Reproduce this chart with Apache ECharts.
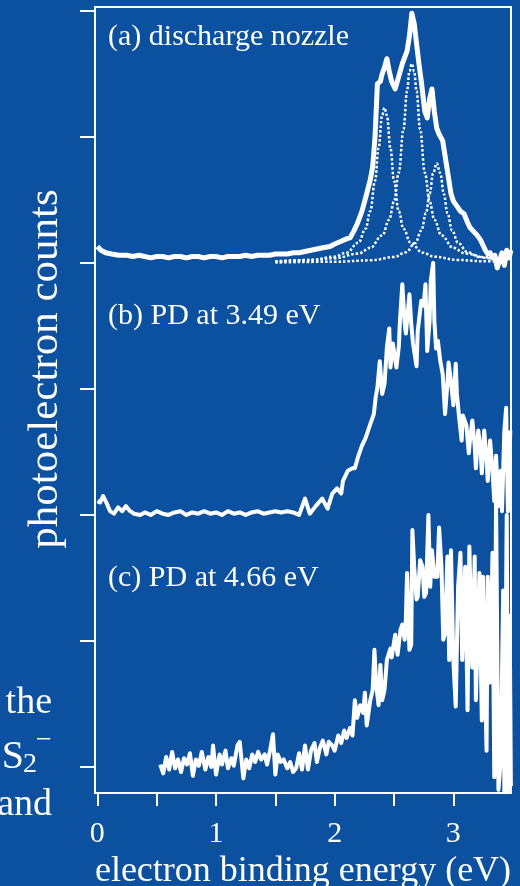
<!DOCTYPE html>
<html>
<head>
<meta charset="utf-8">
<script src="https://cdn.jsdelivr.net/npm/echarts@6/dist/echarts.min.js"></script>
<style>
html,body{margin:0;padding:0;background:#0c50a0;}
#chart{width:520px;height:886px;}
</style>
</head>
<body>
<div id="chart"></div>
<script>
// x tick values (eV) and labels
const xTickValues = [0, 0.5, 1, 1.5, 2, 2.5, 3];
const xLabelValues = [0, 1, 2, 3];
const yTickValues = [0, 1, 2, 3, 4, 5, 6];

const panelLabels = ['(a) discharge nozzle', '(b) PD at 3.49 eV', '(c) PD at 4.66 eV'];

// (a) discharge nozzle spectrum [eV, counts offset]
const spectrumA = [[0.00,4.13],[0.03,4.10],[0.07,4.08],[0.12,4.07],[0.18,4.06],[0.25,4.06],
[0.30,4.05],[0.35,4.06],[0.40,4.05],[0.45,4.04],[0.50,4.05],[0.55,4.05],[0.60,4.04],[0.65,4.05],[0.70,4.05],[0.75,4.04],
[0.80,4.05],[0.85,4.05],[0.90,4.04],[0.95,4.05],[1.00,4.05],[1.05,4.04],[1.10,4.05],[1.15,4.05],[1.20,4.05],[1.25,4.06],
[1.30,4.05],[1.35,4.06],[1.40,4.06],[1.45,4.06],[1.50,4.07],[1.55,4.07],[1.60,4.07],[1.65,4.08],[1.70,4.08],[1.75,4.09],
[1.80,4.10],[1.85,4.11],[1.90,4.12],[1.96,4.13],[2.00,4.15],[2.05,4.17],[2.10,4.19],[2.13,4.20],[2.16,4.25],[2.19,4.31],
[2.23,4.41],[2.27,4.55],[2.30,4.66],[2.32,4.76],[2.34,5.00],[2.36,5.42],[2.385,5.44],[2.40,5.50],[2.42,5.55],[2.44,5.62],
[2.46,5.52],[2.48,5.44],[2.51,5.38],[2.54,5.48],[2.57,5.58],[2.61,5.68],[2.63,5.80],[2.65,5.98],[2.67,5.90],[2.69,5.74],
[2.71,5.58],[2.73,5.44],[2.76,5.20],[2.78,5.15],[2.80,5.30],[2.82,5.38],[2.84,5.20],[2.86,5.07],[2.88,5.02],[2.91,4.97],
[2.93,4.85],[2.96,4.67],[2.98,4.55],[3.00,4.49],[3.03,4.45],[3.06,4.41],[3.09,4.39],[3.12,4.32],[3.14,4.28],[3.17,4.25],
[3.20,4.22],[3.23,4.18],[3.25,4.14],[3.27,4.10],[3.29,4.07],[3.31,4.08],[3.33,4.04],[3.35,4.06],[3.37,3.96],[3.39,4.02],
[3.41,4.08],[3.43,3.98],[3.45,4.10],[3.47,4.04],[3.485,4.10]];

// fitted components in (a)
const fitA1 = [[1.50,4.010],[1.80,4.023],[2.00,4.049],[2.10,4.081],[2.20,4.160],[2.26,4.270],[2.30,4.410],[2.34,4.650],
[2.37,4.910],[2.40,5.170],[2.42,5.230],[2.44,5.170],[2.47,4.910],[2.50,4.650],[2.54,4.410],[2.58,4.270],[2.64,4.160],
[2.74,4.081],[2.84,4.049],[3.04,4.023],[3.24,4.013],[3.45,4.008]];
const fitA2 = [[1.50,4.012],[1.80,4.022],[2.00,4.037],[2.20,4.074],[2.30,4.119],[2.40,4.218],[2.46,4.343],[2.50,4.486],
[2.54,4.715],[2.58,5.060],[2.61,5.362],[2.63,5.519],[2.65,5.580],[2.67,5.519],[2.69,5.362],[2.72,5.060],[2.76,4.715],
[2.80,4.486],[2.84,4.343],[2.90,4.218],[3.00,4.119],[3.10,4.074],[3.30,4.037],[3.45,4.024]];
const fitA3 = [[1.50,4.003],[2.00,4.009],[2.30,4.020],[2.50,4.046],[2.60,4.084],[2.68,4.158],[2.73,4.256],[2.77,4.395],
[2.80,4.547],[2.83,4.711],[2.86,4.790],[2.89,4.711],[2.92,4.547],[2.95,4.395],[2.99,4.256],[3.04,4.158],[3.12,4.084],
[3.22,4.046],[3.45,4.018]];

// (b) photodetachment at 3.49 eV
const spectrumB = [[0.00,2.11],[0.023,2.10],[0.048,2.15],[0.08,2.09],[0.107,2.03],[0.14,2.01],[0.175,2.06],[0.21,2.03],
[0.24,2.07],[0.276,2.03],[0.31,2.01],[0.36,2.00],[0.40,2.02],[0.45,2.00],[0.50,2.03],[0.55,2.01],[0.60,2.00],[0.65,2.02],
[0.70,2.03],[0.75,2.00],[0.80,2.02],[0.85,2.01],[0.90,2.03],[0.95,2.01],[1.00,2.02],[1.05,2.00],[1.10,2.03],[1.15,2.01],
[1.20,2.02],[1.25,2.00],[1.30,2.02],[1.35,2.03],[1.40,2.01],[1.45,2.02],[1.50,2.03],[1.55,2.02],[1.60,2.03],[1.65,2.02],
[1.70,2.00],[1.75,2.13],[1.79,2.01],[1.84,2.07],[1.895,2.13],[1.94,2.05],[1.98,2.17],[2.02,2.21],[2.055,2.17],[2.07,2.27],
[2.11,2.35],[2.15,2.37],[2.17,2.37],[2.20,2.47],[2.23,2.55],[2.26,2.61],[2.30,2.72],[2.33,2.80],[2.345,2.93],[2.36,3.01],
[2.38,3.22],[2.40,2.96],[2.42,3.04],[2.44,3.33],[2.46,3.48],[2.47,3.17],[2.49,3.36],[2.52,3.17],[2.54,3.33],[2.55,3.54],
[2.57,3.83],[2.59,3.52],[2.60,3.44],[2.63,3.75],[2.645,3.52],[2.66,3.36],[2.69,3.18],[2.70,3.46],[2.73,3.70],[2.75,3.66],
[2.765,3.83],[2.78,3.30],[2.80,3.54],[2.81,3.86],[2.83,4.00],[2.84,3.54],[2.855,3.32],[2.87,3.38],[2.89,3.22],[2.91,3.12],
[2.93,2.80],[2.95,3.04],[2.96,3.21],[2.98,3.06],[3.00,2.87],[3.02,3.20],[3.03,2.96],[3.05,2.76],[3.07,2.59],[3.08,2.79],
[3.11,2.71],[3.13,2.49],[3.14,2.59],[3.16,2.75],[3.18,2.55],[3.19,2.37],[3.21,2.67],[3.23,2.51],[3.24,2.33],[3.26,2.67],
[3.28,2.44],[3.29,2.27],[3.31,2.59],[3.33,2.35],[3.345,2.11],[3.36,2.47],[3.38,2.07],[3.40,2.35],[3.41,2.03],[3.43,2.67],
[3.445,2.85],[3.46,2.03],[3.48,2.67]];

// (c) photodetachment at 4.66 eV
const spectrumC = [[0.53,0.02],[0.555,-0.05],[0.58,0.08],[0.605,-0.02],[0.63,0.12],[0.655,-0.01],[0.68,0.06],[0.705,-0.04],
[0.73,0.07],[0.755,0.02],[0.78,0.11],[0.805,-0.07],[0.83,0.06],[0.855,0.01],[0.88,0.12],[0.91,-0.02],[0.935,0.08],[0.96,0.00],
[0.975,0.17],[1.00,-0.06],[1.03,0.10],[1.05,0.02],[1.08,0.13],[1.10,-0.01],[1.13,0.07],[1.15,0.01],[1.18,0.17],[1.20,0.20],
[1.23,-0.09],[1.255,0.06],[1.28,-0.01],[1.305,0.10],[1.33,0.04],[1.355,0.12],[1.38,0.06],[1.41,0.10],[1.43,0.02],[1.455,0.13],
[1.48,0.26],[1.50,-0.06],[1.52,0.10],[1.545,0.04],[1.57,0.06],[1.60,-0.01],[1.625,0.04],[1.65,-0.04],[1.675,-0.01],[1.70,0.11],
[1.725,-0.02],[1.75,0.17],[1.775,-0.02],[1.80,0.13],[1.83,0.19],[1.85,0.04],[1.875,0.15],[1.90,0.21],[1.93,0.10],[1.95,0.20],
[1.98,0.17],[2.00,0.13],[2.03,0.25],[2.055,0.19],[2.08,0.29],[2.10,0.23],[2.13,0.31],[2.15,0.25],[2.17,0.53],[2.19,0.39],
[2.215,0.49],[2.24,0.43],[2.255,0.59],[2.27,0.33],[2.30,0.53],[2.32,0.61],[2.335,0.93],[2.35,0.65],[2.37,0.49],[2.385,0.81],
[2.40,0.53],[2.42,0.61],[2.44,0.85],[2.47,0.94],[2.48,0.87],[2.51,1.05],[2.53,0.89],[2.555,1.09],[2.57,1.13],[2.59,1.01],
[2.60,1.18],[2.61,1.54],[2.63,0.93],[2.645,0.97],[2.655,1.88],[2.67,1.59],[2.69,1.33],[2.70,1.35],[2.72,1.64],[2.74,1.59],
[2.755,1.35],[2.77,1.38],[2.79,2.00],[2.805,1.43],[2.82,1.72],[2.84,1.51],[2.865,1.51],[2.88,1.90],[2.90,1.59],[2.915,1.01],
[2.93,1.06],[2.95,1.67],[2.965,0.85],[2.98,1.72],[3.00,0.85],[3.02,0.48],[3.04,1.43],[3.06,1.70],[3.075,0.85],[3.10,1.59],
[3.12,0.45],[3.135,1.75],[3.16,0.79],[3.18,1.67],[3.19,0.53],[3.22,1.54],[3.24,0.37],[3.25,1.51],[3.28,0.13],[3.29,1.51],
[3.31,0.67],[3.33,1.70],[3.345,-0.08],[3.36,2.10],[3.38,-0.18],[3.40,0.06],[3.42,1.40],[3.43,-0.20],[3.45,2.00],[3.46,-0.20],
[3.475,1.20],[3.485,-0.15]];

const WHITE = '#ffffff';
const SERIF = 'Liberation Serif';

const chart = echarts.init(document.getElementById('chart'), null, {renderer: 'canvas'});

const dotted = {color: WHITE, width: 2.5, type: [2.5, 2], cap: 'butt'};

chart.setOption({
  backgroundColor: '#0c50a0',
  animation: false,
  grid: {left: 95, top: 7, width: 416, height: 786, show: true, borderColor: WHITE, borderWidth: 2,
         containLabel: false, outerBoundsMode: 'none'},
  xAxis: {
    type: 'value', min: -0.02, max: 3.486,
    name: 'electron binding energy (eV)', nameLocation: 'middle', nameGap: 60,
    nameTextStyle: {color: WHITE, fontFamily: SERIF, fontSize: 36},
    axisLine: {show: true, onZero: false, lineStyle: {color: WHITE, width: 2}},
    axisTick: {show: true, inside: false, length: 13, customValues: xTickValues, lineStyle: {color: WHITE, width: 2}},
    axisLabel: {show: true, customValues: xLabelValues, color: WHITE, fontFamily: SERIF, fontSize: 30, margin: 26},
    splitLine: {show: false}
  },
  yAxis: {
    type: 'value', min: -0.206, max: 6.03,
    name: 'photoelectron counts', nameLocation: 'middle', nameGap: 28, nameRotate: 90,
    nameTextStyle: {color: WHITE, fontFamily: SERIF, fontSize: 43, padding: [0, 0, 0, 62]},
    axisLine: {show: true, onZero: false, lineStyle: {color: WHITE, width: 2}},
    axisTick: {show: true, inside: false, length: 15, customValues: yTickValues, lineStyle: {color: WHITE, width: 2}},
    axisLabel: {show: false},
    splitLine: {show: false}
  },
  graphic: [
    {type: 'text', left: 108, top: 22, style: {text: panelLabels[0], fill: WHITE, font: '30px "Liberation Serif"'}},
    {type: 'text', left: 108, top: 301, style: {text: panelLabels[1], fill: WHITE, font: '30px "Liberation Serif"'}},
    {type: 'text', left: 108, top: 563, style: {text: panelLabels[2], fill: WHITE, font: '30px "Liberation Serif"'}},
    {type: 'text', x: 52, y: 684, style: {text: 'the', fill: WHITE, font: '38px "Liberation Serif"', align: 'right', verticalAlign: 'top'}},
    {type: 'text', x: 24, y: 737, style: {text: 'S', fill: WHITE, font: '40px "Liberation Serif"', align: 'right', verticalAlign: 'top'}},
    {type: 'text', x: 23, y: 751, style: {text: '2', fill: WHITE, font: '28px "Liberation Serif"', align: 'left', verticalAlign: 'top'}},
    {type: 'text', x: 36, y: 727, style: {text: '−', fill: WHITE, font: '28px "Liberation Serif"', align: 'left', verticalAlign: 'top'}},
    {type: 'text', x: 52, y: 786, style: {text: 'and', fill: WHITE, font: '38px "Liberation Serif"', align: 'right', verticalAlign: 'top'}}
  ],
  series: [
    {name: 'fit 1', type: 'line', data: fitA1, showSymbol: false, smooth: 0.4, smoothMonotone: 'x', lineStyle: dotted, z: 2},
    {name: 'fit 2', type: 'line', data: fitA2, showSymbol: false, smooth: 0.4, smoothMonotone: 'x', lineStyle: dotted, z: 2},
    {name: 'fit 3', type: 'line', data: fitA3, showSymbol: false, smooth: 0.4, smoothMonotone: 'x', lineStyle: dotted, z: 2},
    {name: '(a)', type: 'line', data: spectrumA, showSymbol: false, lineStyle: {color: WHITE, width: 5, join: 'round'}, z: 3},
    {name: '(b)', type: 'line', data: spectrumB, showSymbol: false, lineStyle: {color: WHITE, width: 4, join: 'round'}, z: 3},
    {name: '(c)', type: 'line', data: spectrumC, showSymbol: false, lineStyle: {color: WHITE, width: 4, join: 'round'}, z: 3}
  ]
});
</script>
</body>
</html>
